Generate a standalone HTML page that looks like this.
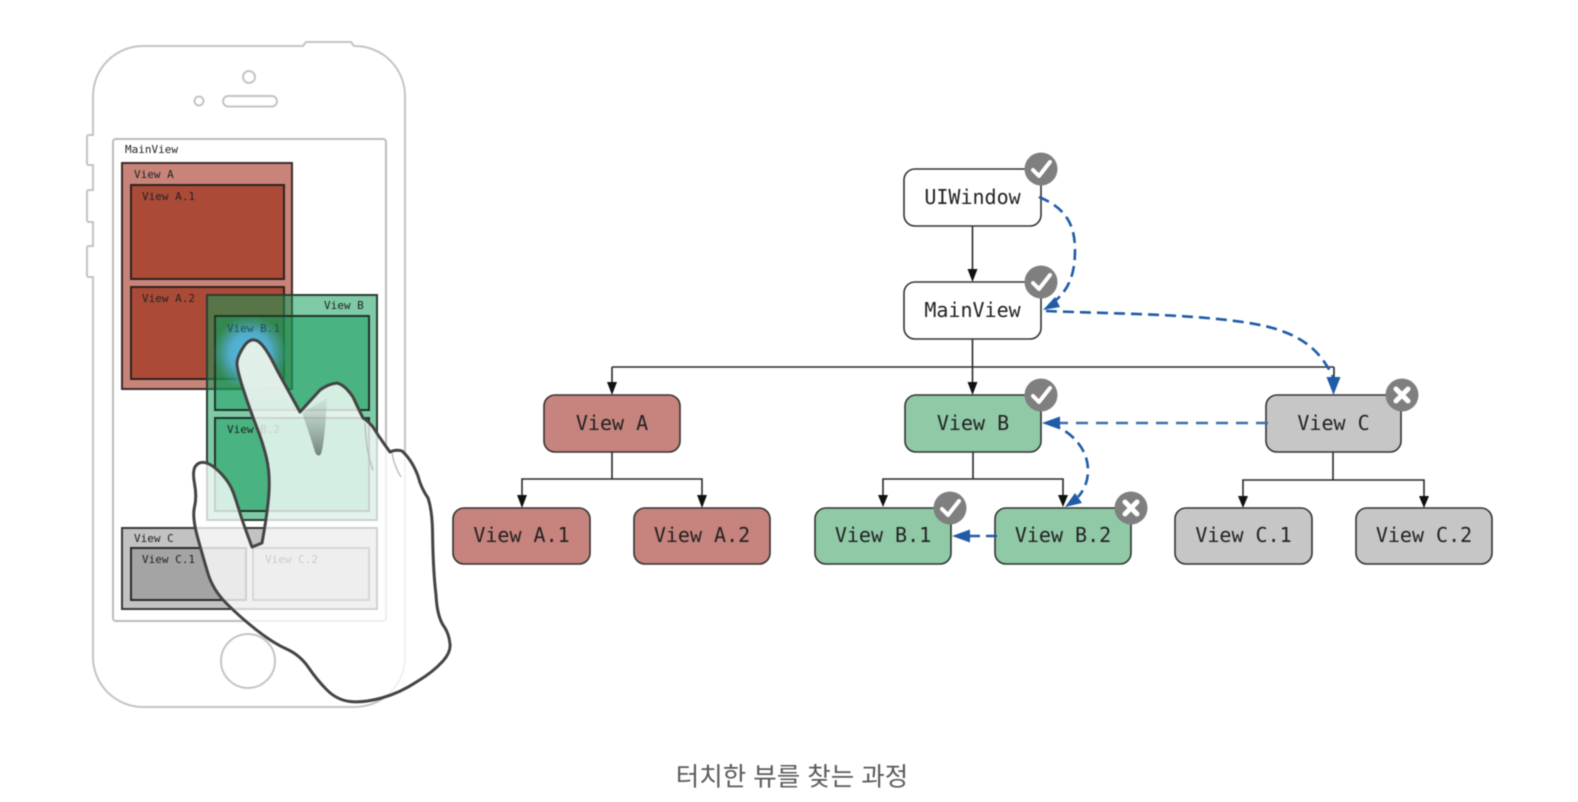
<!DOCTYPE html>
<html lang="ko">
<head>
<meta charset="utf-8">
<title>터치한 뷰를 찾는 과정</title>
<style>
html,body{margin:0;padding:0;background:#fff;width:1578px;height:802px;overflow:hidden}
svg{display:block;filter:blur(.55px)}
.s{font-family:"DejaVu Sans Mono","Liberation Mono",monospace;font-size:11px;fill:#222}
.n{font-family:"DejaVu Sans Mono","Liberation Mono",monospace;font-size:20px;fill:#222;text-anchor:middle}
.node{stroke:#333;stroke-width:1.6}
.t{stroke:#2a2a2a;stroke-width:1.6;fill:none}
.b{stroke:#1f5ba6;stroke-width:2.6;fill:none;stroke-dasharray:11 6}
.ph{fill:none;stroke:#c4c4c4;stroke-width:2}
</style>
</head>
<body>
<svg width="1578" height="802" viewBox="0 0 1578 802" xmlns="http://www.w3.org/2000/svg">
<defs>
<radialGradient id="glow" cx="50%" cy="50%" r="50%">
<stop offset="0" stop-color="#55bdea"/>
<stop offset=".55" stop-color="#55b4e0" stop-opacity=".85"/>
<stop offset="1" stop-color="#4fa6d0" stop-opacity="0"/>
</radialGradient>
<linearGradient id="shade" x1="0" y1="0" x2="0" y2="1">
<stop offset="0" stop-color="#8a9a92" stop-opacity=".1"/>
<stop offset="1" stop-color="#5f6f68" stop-opacity=".85"/>
</linearGradient>
<linearGradient id="tipfade" gradientUnits="userSpaceOnUse" x1="0" y1="385" x2="0" y2="424">
<stop offset="0" stop-color="#78b99b"/>
<stop offset="1" stop-color="#78b99b" stop-opacity="0"/>
</linearGradient>
</defs>

<!-- phone -->
<path class="ph" d="M143 46H303L306 42H351L354 46H355A50 50 0 0 1 405 96V657A50 50 0 0 1 355 707H143A50 50 0 0 1 93 657V277H89Q87 277 87 275V248Q87 246 89 246H93V222H89Q87 222 87 220V192Q87 190 89 190H93V165H89Q87 165 87 163V137Q87 135 89 135H93V96A50 50 0 0 1 143 46Z"/>
<circle class="ph" cx="249" cy="77" r="6"/>
<circle class="ph" cx="199" cy="101" r="4.5"/>
<rect class="ph" x="223" y="96" width="54" height="10.5" rx="5.2"/>
<circle class="ph" cx="248" cy="661" r="27"/>
<rect x="113" y="139" width="273" height="482" rx="3" fill="#fff" stroke="#bbb" stroke-width="2"/>
<text class="s" x="125" y="153">MainView</text>

<!-- view A -->
<rect x="122" y="163" width="170" height="226" fill="#c9847a" stroke="#3d2b28" stroke-width="2"/>
<rect x="131" y="185" width="153" height="94" fill="#ab4b37" stroke="#2e2220" stroke-width="2"/>
<rect x="131" y="287" width="153" height="92" fill="#ab4b37" stroke="#2e2220" stroke-width="2"/>
<text class="s" x="134" y="178">View A</text>
<text class="s" x="142" y="200">View A.1</text>
<text class="s" x="142" y="302">View A.2</text>

<!-- view B -->
<rect x="207" y="295" width="170" height="225" fill="#0d9b57" fill-opacity=".53" stroke="#2b3e33" stroke-width="2"/>
<rect x="215" y="316" width="154" height="94" fill="#0d9b57" fill-opacity=".47" stroke="#1f3429" stroke-width="2"/>
<rect x="215" y="418" width="154" height="93" fill="#0d9b57" fill-opacity=".47" stroke="#1f3429" stroke-width="2"/>
<text class="s" x="324" y="309">View B</text>
<text class="s" x="227" y="433">View B.2</text>

<!-- view C -->
<rect x="122" y="528" width="255" height="81" fill="#c2c2c2" stroke="#3a3a3a" stroke-width="2"/>
<rect x="131" y="548" width="115" height="52" fill="#a4a4a4" stroke="#2b2b2b" stroke-width="2"/>
<rect x="253" y="548" width="116" height="52" fill="#b6b6b6" stroke="#555" stroke-width="2"/>
<text class="s" x="134" y="542">View C</text>
<text class="s" x="142" y="563">View C.1</text>
<text class="s" x="265" y="563">View C.2</text>

<!-- touch glow -->
<circle cx="250" cy="353" r="37" fill="url(#glow)"/>
<text class="s" x="227" y="332" style="fill:#1f4f66">View B.1</text>
<path fill="#78b99b" d="M243.5 347Q237 357 237 363.5Q237 370 240 380L286 386L277 370Q265 345 257.5 341Q250 337 243.5 347Z"/>
<path fill="url(#tipfade)" d="M239 379Q241 385 243.5 390Q250 410 255 424L300 412L285 385Z"/>

<!-- hand -->
<path fill="#fff" fill-opacity=".77" stroke="#444" stroke-width="3" stroke-linejoin="round" d="M243.5 347Q237 357 237 363.5Q237 370 243.5 390Q250 410 256.5 426.5Q263 443 266.5 458Q270 473 269 491.5Q268 510 262 543L252 547Q243 523 240 513Q237 503 233.5 493Q230 483 221.5 474Q213 465 206.5 463Q200 461 196 465.5Q192 470 194.5 483.5Q197 497 194.5 507Q192 517 197.5 537Q203 557 208 573.5Q213 590 226.5 603.5Q240 617 256.5 630Q273 643 286.5 649Q300 655 308.5 667.5Q317 680 327 690Q337 700 350 701.5Q363 703 381.5 698Q400 693 418 681Q433 672 443 661Q451 652 450 644Q449 633 443 625Q437 615 436 595Q433 570 432.5 530Q432 510 428 498Q421 488 418 476Q412 460 402 451Q396 449 390 452Q381 440 373 427Q368 421 363 418Q358 408 353 397Q345 385 337 383Q328 384 320 390L300 412L277 370Q265 345 257.5 341Q250 337 243.5 347Z"/>
<path d="M302 413L327 398Q325 440 321 454Q318 458 315 452Q310 435 302 413Z" fill="url(#shade)"/>
<path d="M365 423Q366 452 373 470M392 453Q394 466 401 477" fill="none" stroke="#b5c0ba" stroke-width="1.4"/>

<!-- tree connectors -->
<g class="t">
<path d="M972.5 226V270M972.5 339V383M612 367H1334M612 367V383M1334 367V380"/>
<path d="M612 452V479H522V495M612 479H702V495"/>
<path d="M973 452V479H883V495M973 479H1063V495"/>
<path d="M1333 452V480H1243V496M1333 480H1424V496"/>
</g>
<g fill="#111">
<path d="M967.5 269H977.5L972.5 282ZM967.5 382H977.5L972.5 395ZM607 382H617L612 395Z"/>
<path d="M517 495H527L522 508ZM697 495H707L702 508ZM878 495H888L883 507ZM1058 495H1068L1063 507ZM1238 496H1248L1243 508ZM1419 496H1429L1424 508Z"/>
</g>

<!-- nodes -->
<rect class="node" x="904" y="169" width="137" height="57" rx="11" fill="#fff"/>
<rect class="node" x="904" y="282" width="137" height="57" rx="11" fill="#fff"/>
<rect class="node" x="544" y="395" width="136" height="57" rx="11" fill="#c7837d"/>
<rect class="node" x="905" y="395" width="136" height="57" rx="11" fill="#90c9a6"/>
<rect class="node" x="1266" y="395" width="135" height="57" rx="11" fill="#c6c6c6"/>
<rect class="node" x="453" y="508" width="137" height="56" rx="11" fill="#c7837d"/>
<rect class="node" x="634" y="508" width="136" height="56" rx="11" fill="#c7837d"/>
<rect class="node" x="815" y="508" width="136" height="56" rx="11" fill="#90c9a6"/>
<rect class="node" x="995" y="508" width="136" height="56" rx="11" fill="#90c9a6"/>
<rect class="node" x="1175" y="508" width="137" height="56" rx="11" fill="#c6c6c6"/>
<rect class="node" x="1356" y="508" width="136" height="56" rx="11" fill="#c6c6c6"/>

<text class="n" x="972.5" y="204">UIWindow</text>
<text class="n" x="972.5" y="317">MainView</text>
<text class="n" x="612" y="430">View A</text>
<text class="n" x="973" y="430">View B</text>
<text class="n" x="1333.5" y="430">View C</text>
<text class="n" x="521.5" y="542">View A.1</text>
<text class="n" x="702" y="542">View A.2</text>
<text class="n" x="883" y="542">View B.1</text>
<text class="n" x="1063" y="542">View B.2</text>
<text class="n" x="1243.5" y="542">View C.1</text>
<text class="n" x="1424" y="542">View C.2</text>

<!-- blue traversal -->
<g class="b">
<path d="M1039 197C1066 208 1075 225 1075 250C1075 272 1070 288 1056 300"/>
<path d="M1046 311C1120 314 1210 314 1265 326C1302 335 1320 350 1333 377"/>
<path d="M1268 423H1058" style="stroke-dasharray:12 8;stroke:#3a6fb0"/>
<path d="M1050 424C1070 430 1088 448 1088 470C1088 482 1084 490 1078 497"/>
<path d="M997 536H968"/>
</g>
<g fill="#1f5ba6">
<path d="M1043 310L1055 297L1060 307Z"/>
<path d="M1326.5 377H1340.5L1333.5 395Z"/>
<path d="M1042 423L1060 416.5V429.5Z"/>
<path d="M1065 507L1075 493L1082 503Z"/>
<path d="M952 536L970 529.5V542.5Z"/>
</g>

<!-- badges -->
<g fill="#7f7f7f">
<circle cx="1041" cy="169" r="16.5"/><circle cx="1041" cy="282" r="16.5"/><circle cx="1041" cy="395" r="16.5"/><circle cx="950" cy="508" r="16.5"/><circle cx="1131" cy="508" r="16.5"/><circle cx="1402" cy="395" r="16.5"/>
</g>
<g fill="none" stroke="#fff" stroke-width="4" stroke-linecap="round" stroke-linejoin="round">
<path d="M1033 170L1039 176L1050 162M1033 283L1039 289L1050 275M1033 396L1039 402L1050 388M942 509L948 515L959 501"/>
<path d="M1125 502L1137 514M1137 502L1125 514M1396 389L1408 401M1408 389L1396 401" stroke-width="5"/>
</g>

<text x="792" y="785.5" text-anchor="middle" font-family="'Liberation Sans','Noto Sans CJK KR',sans-serif" font-size="25.5" fill="#5a5a5a">터치한 뷰를 찾는 과정</text>
</svg>
</body>
</html>
